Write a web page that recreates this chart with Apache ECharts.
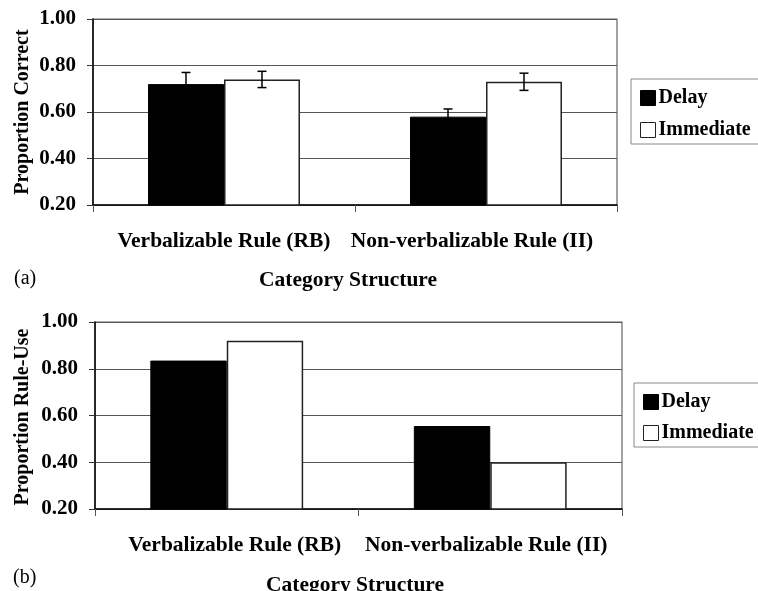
<!DOCTYPE html>
<html>
<head>
<meta charset="utf-8">
<script src="https://cdn.jsdelivr.net/npm/echarts@6/dist/echarts.min.js"></script>
<style>
  html, body { margin: 0; padding: 0; background: #fff; }
  #chart { width: 758px; height: 591px; }
</style>
</head>
<body>
<div id="chart"></div>
<script>
// Category structures on the x axis
const categories = ['Verbalizable Rule (RB)', 'Non-verbalizable Rule (II)'];
const seriesNames = ['Delay', 'Immediate'];
const yTicks = [0.20, 0.40, 0.60, 0.80, 1.00];

// (a) proportion correct with standard-error bars
const correctDelay = [0.72, 0.58];
const correctImmediate = [0.74, 0.73];
const correctDelayErr = [0.05, 0.033];
const correctImmediateErr = [0.035, 0.037];

// (b) proportion of participants using the rule
const ruleDelay = [0.835, 0.555];
const ruleImmediate = [0.92, 0.40];

const SERIF = '"Liberation Serif", "Times New Roman", serif';
const GAP = 0.42; // barCategoryGap as a fraction

const chart = echarts.init(document.getElementById('chart'), null, { renderer: 'canvas' });

function yAxisCfg(gridIndex) {
  return {
    type: 'value', gridIndex,
    min: yTicks[0], max: yTicks[yTicks.length - 1], interval: 0.2,
    axisLine: { show: true, lineStyle: { color: '#000', width: 1.5 } },
    axisTick: { show: true, length: 6, lineStyle: { color: '#333', width: 1 } },
    axisLabel: {
      margin: 17, fontFamily: SERIF, fontWeight: 'bold', fontSize: 21, color: '#000',
      formatter: v => v.toFixed(2)
    },
    splitLine: { show: true, lineStyle: { color: '#555', width: 1.2 } }
  };
}

// labelPads: per-category padding that nudges each label sideways
function xAxisCfg(gridIndex, labelPads) {
  return {
    type: 'category', gridIndex,
    data: categories.map((c, i) => ({ value: c, textStyle: { padding: labelPads[i] } })),
    axisLine: { show: true, lineStyle: { color: '#000', width: 1.5 } },
    axisTick: { show: true, alignWithLabel: false, length: 7, inside: false, lineStyle: { color: '#555' } },
    axisLabel: {
      interval: 0, hideOverlap: false, margin: 25,
      fontFamily: SERIF, fontWeight: 'bold', fontSize: 21.5, color: '#000'
    },
    splitLine: { show: false }
  };
}

function legendCfg(top, left, gap) {
  return {
    orient: 'vertical', left, top,
    data: seriesNames,
    itemWidth: 15, itemHeight: 15, itemGap: gap,
    icon: 'rect',
    padding: [9, 40, 4, 9],
    borderColor: '#888', borderWidth: 1, borderRadius: 0,
    backgroundColor: '#fff',
    textStyle: { fontFamily: SERIF, fontWeight: 'bold', fontSize: 20, color: '#000', padding: [0, 0, 0, -2] },
    itemStyle: { borderWidth: 1 },
    selectedMode: false
  };
}

// Error bars drawn at the centre of each bar of a category pair
function errorSeries(name, values, errs, side) {
  return {
    type: 'custom', xAxisIndex: 0, yAxisIndex: 0, z: 10,
    data: values.map((v, i) => [i, v - errs[i], v + errs[i]]),
    renderItem(params, api) {
      const i = api.value(0);
      const bandW = api.size([1, 0])[0];
      const barW = bandW * (1 - GAP) / 2;
      const lo = api.coord([i, api.value(1)]);
      const hi = api.coord([i, api.value(2)]);
      const x = lo[0] + side * barW / 2;
      const cap = 4.5;
      const style = { stroke: '#000', lineWidth: 1.5, fill: null };
      return {
        type: 'group',
        children: [
          { type: 'line', shape: { x1: x, y1: lo[1], x2: x, y2: hi[1] }, style },
          { type: 'line', shape: { x1: x - cap, y1: hi[1], x2: x + cap, y2: hi[1] }, style },
          { type: 'line', shape: { x1: x - cap, y1: lo[1], x2: x + cap, y2: lo[1] }, style }
        ]
      };
    },
    silent: true
  };
}

const delayStyle = { color: '#000', borderColor: '#000', borderWidth: 1 };
const immStyle = { color: '#fff', borderColor: '#222', borderWidth: 1.5 };

const option = {
  animation: false,
  backgroundColor: '#fff',
  grid: [
    { left: 93, top: 19, width: 524, height: 186, show: true, borderColor: '#666', borderWidth: 1.2, backgroundColor: 'transparent' },
    { left: 95, top: 322, width: 527, height: 187, show: true, borderColor: '#666', borderWidth: 1.2, backgroundColor: 'transparent' }
  ],
  xAxis: [
    xAxisCfg(0, [[0, 0, 0, 0], [0, 28, 0, 0]]),
    xAxisCfg(1, [[0, 0, 0, 16], [0, 8, 0, 0]])
  ],
  yAxis: [yAxisCfg(0), yAxisCfg(1)],
  legend: [legendCfg(79, 631, 12), legendCfg(383, 634, 11)],
  graphic: [
    { type: 'text', x: 23, y: 112, rotation: Math.PI / 2,
      style: { text: 'Proportion Correct', fontFamily: SERIF, fontWeight: 'bold', fontSize: 20, fill: '#000', align: 'center', verticalAlign: 'middle' } },
    { type: 'text', x: 23, y: 417, rotation: Math.PI / 2,
      style: { text: 'Proportion Rule-Use', fontFamily: SERIF, fontWeight: 'bold', fontSize: 20, fill: '#000', align: 'center', verticalAlign: 'middle' } },
    { type: 'text', x: 348, y: 280,
      style: { text: 'Category Structure', fontFamily: SERIF, fontWeight: 'bold', fontSize: 21.5, fill: '#000', align: 'center', verticalAlign: 'middle' } },
    { type: 'text', x: 355, y: 585,
      style: { text: 'Category Structure', fontFamily: SERIF, fontWeight: 'bold', fontSize: 21.5, fill: '#000', align: 'center', verticalAlign: 'middle' } },
    { type: 'text', x: 14, y: 279,
      style: { text: '(a)', fontFamily: SERIF, fontSize: 20, fill: '#000', align: 'left', verticalAlign: 'middle' } },
    { type: 'text', x: 13, y: 578,
      style: { text: '(b)', fontFamily: SERIF, fontSize: 20, fill: '#000', align: 'left', verticalAlign: 'middle' } }
  ],
  series: [
    { name: seriesNames[0], type: 'bar', xAxisIndex: 0, yAxisIndex: 0, data: correctDelay,
      barGap: '0%', barCategoryGap: (GAP * 100) + '%', itemStyle: delayStyle },
    { name: seriesNames[1], type: 'bar', xAxisIndex: 0, yAxisIndex: 0, data: correctImmediate,
      barGap: '0%', barCategoryGap: (GAP * 100) + '%', itemStyle: immStyle },
    errorSeries('Delay error', correctDelay, correctDelayErr, -1),
    errorSeries('Immediate error', correctImmediate, correctImmediateErr, 1),
    { name: seriesNames[0], type: 'bar', xAxisIndex: 1, yAxisIndex: 1, data: ruleDelay,
      barGap: '0%', barCategoryGap: (GAP * 100) + '%', itemStyle: delayStyle },
    { name: seriesNames[1], type: 'bar', xAxisIndex: 1, yAxisIndex: 1, data: ruleImmediate,
      barGap: '0%', barCategoryGap: (GAP * 100) + '%', itemStyle: immStyle }
  ]
};

chart.setOption(option);
</script>
</body>
</html>
